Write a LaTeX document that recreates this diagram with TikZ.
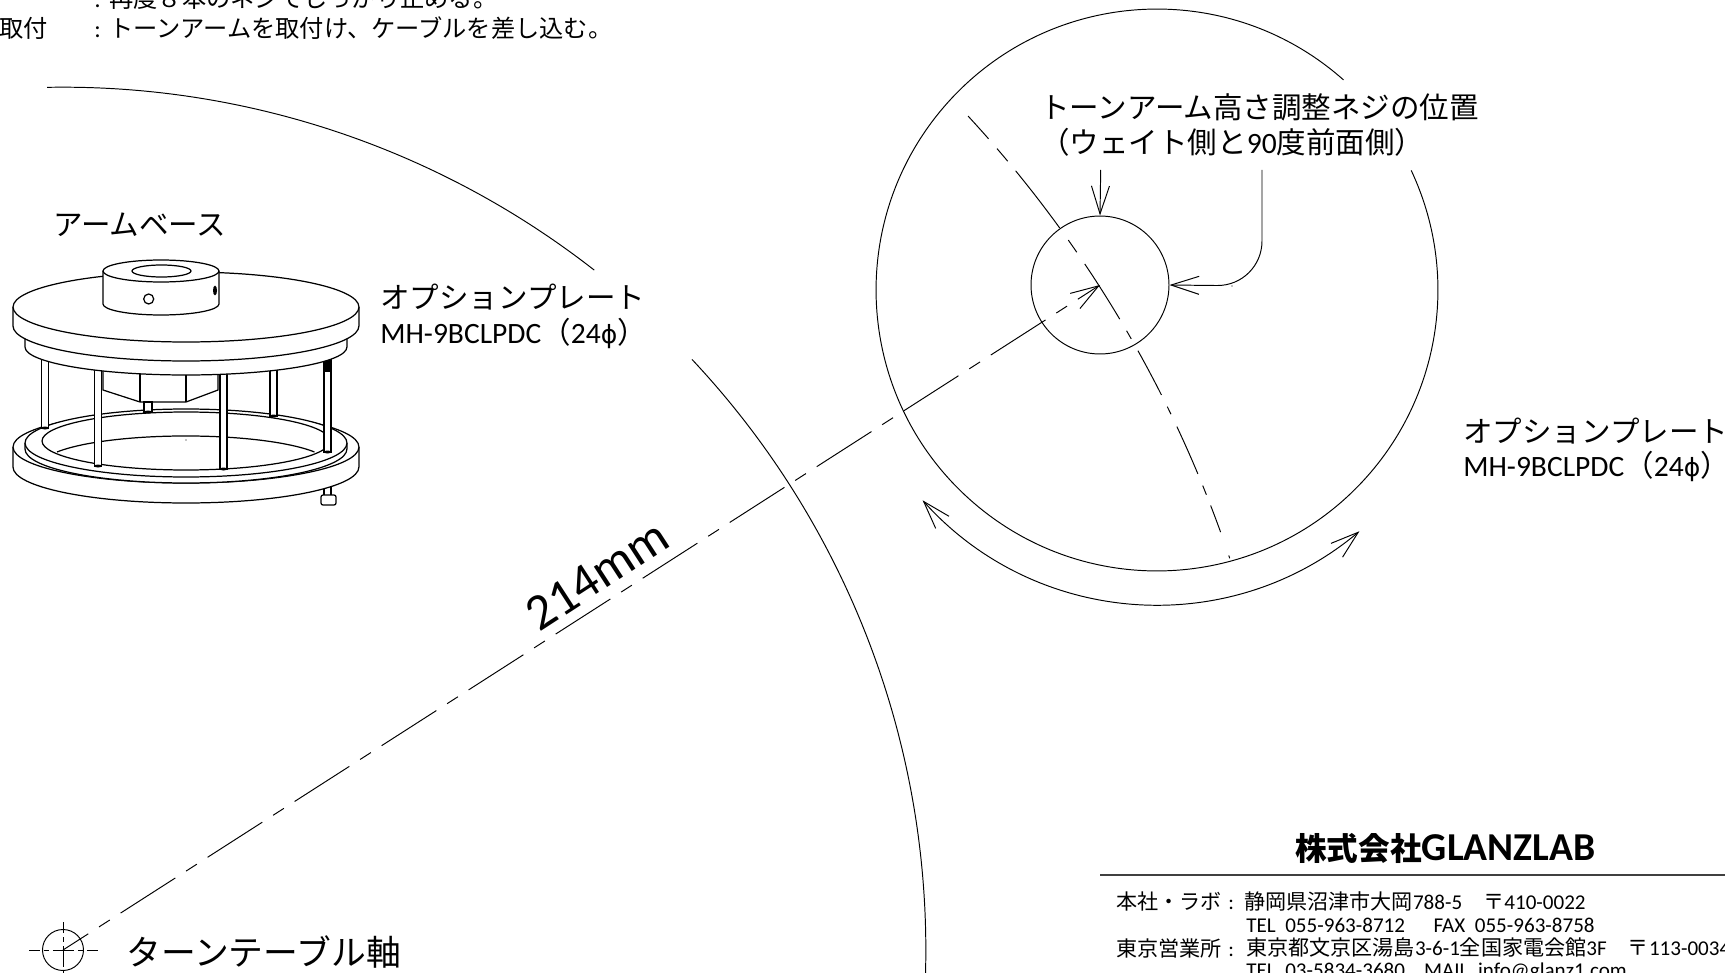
\documentclass[tikz,border=0pt]{standalone}
\usepackage{fontspec}
\setmainfont{Carlito}
\newfontfamily\jpfont{Noto Sans CJK JP}
\newfontfamily\phifont[Scale=0.85]{DejaVu Sans}
\newcommand{\jp}[1]{{\jpfont #1}}
\usetikzlibrary{arrows.meta}

\begin{document}
\begin{tikzpicture}[x=0.02cm,y=-0.02cm]
	\tikzstyle{thin line}=[line width=0.55pt]
	\tikzstyle{part}=[line width=0.7pt,fill=white]
	\tikzstyle{lead}=[line width=0.55pt,-{Straight Barb[length=0.56cm,width=0.36cm]}]
	\tikzstyle{centre line}=[line width=0.55pt,dash pattern=on 1.3cm off 0.256cm on 0.256cm off 0.256cm,dash phase=0.7cm]
	\tikzstyle{cross line}=[line width=0.55pt,dash pattern=on 0.22cm off 0.08cm on 0.1cm off 0.08cm on 0.42cm off 0.08cm on 0.1cm off 0.08cm on 0.22cm]
	\tikzstyle{caption}=[anchor=base west,inner sep=0pt,font=\fontsize{16.8}{20}\selectfont]
	\tikzstyle{note}=[anchor=base west,inner sep=0pt,font=\fontsize{13.8}{16}\selectfont]
	\tikzstyle{address}=[anchor=base west,inner sep=0pt,font=\fontsize{12}{14}\selectfont]
	\clip[use as bounding box] (0,0) rectangle (1725,973);
	\node[note] (mountcolon) at (94,8) {:};
	\node[note] (mounttext) at (109,8) {\jp{再度８本のネジでしっかり止める。}};
	\node[note] (fittitle) at (-1,38) {\jp{取付}};
	\node[note] (fitcolon) at (94,38) {:};
	\node[note] (fittext) at (109,38) {\jp{トーンアームを取付け、ケーブルを差し込む。}};
	\coordinate (tt) at (63,950);
	\coordinate (dial) at (1157,290);
	\node[circle,draw,line width=0.55pt,minimum size=0.82cm,inner sep=0pt] (axis) at (tt) {};
	\node[circle,draw,line width=0.55pt,minimum size=2.76cm,inner sep=0pt] (hole) at (1100,285) {};
	\draw[cross line] (29,950) -- (98,950);
	\draw[cross line] (63.5,922) -- (63.5,991);
	\draw[thin line] ([shift={(91.06:17.26cm)}]tt) arc[start angle=91.06,end angle=52,radius=17.26cm];
	\draw[thin line] ([shift={(43.2:17.26cm)}]tt) arc[start angle=43.2,end angle=-3,radius=17.26cm];
	\draw[thin line] ([shift={(48.4:5.62cm)}]dial) arc[start angle=48.4,end angle=385.2,radius=5.62cm];
	\draw[lead,{Straight Barb[length=0.56cm,width=0.36cm]}-{Straight Barb[length=0.56cm,width=0.36cm]}] ([shift={(221.9:6.3cm)}]dial) arc[start angle=221.9,end angle=310,radius=6.3cm];
	\draw[centre line,-{Straight Barb[length=0.56cm,width=0.36cm]}] (tt) -- (hole.center);
	\foreach \a/\b in {42.66/41.23,40.63/39.86,39.28/35.92,35.23/34.54,33.88/30.84,30.21/29.77,29.14/26.81,26.2/25.81,25.17/22.76,22.17/21.71,21.17/19.85,18.7/18.56}
		\draw[thin line] ([shift={(\a:24.62cm)}]tt) arc[start angle=\a,end angle=\b,radius=24.62cm];
	\coordinate (toplead) at (1100.7,170);
	\coordinate (sidelead) at (1262,170);
	\draw[lead] (toplead) -- (hole.north);
	\draw[lead,rounded corners=0.9cm] (sidelead) -- (1262,286) -- (hole.east);
	\fill (1232,286) circle (0.012cm);
	\node[caption] (topnote) at (1040,119) {\jp{トーンアーム高さ調整ネジの位置}};
	\node[caption] (subnote) at (1040,154) {\jp{（ウェイト側と}90\jp{度前面側）}};
	\node[caption] (basetitle) at (53,236) {\jp{アームベース}};
	\node[caption] (plateleft) at (380,309) {\jp{オプションプレート}};
	\node[caption] (modelleft) at (380,343) {MH-9BCLPDC\jp{（}24{\phifont ϕ}\jp{）}};
	\node[caption] (plateright) at (1463,442) {\jp{オプションプレート}};
	\node[caption] (modelright) at (1463,476) {MH-9BCLPDC\jp{（}24{\phifont ϕ}\jp{）}};
	\node[anchor=base west,inner sep=0pt,font=\fontsize{19.8}{22}\selectfont] (axistitle) at (126,965) {\jp{ターンテーブル軸}};
	\node[inner sep=0pt,rotate=33,font=\fontsize{29}{34}\selectfont] (radius) at (597,575) {214mm};
	\draw[part] (324,480) rectangle (331,496);
	\draw[part,rounded corners=0.04cm] (321,495) rectangle (336,505);
	\draw[part] (13,447) -- (13,467) arc[start angle=180,end angle=360,x radius=3.46cm,y radius=0.72cm] -- (359,447);
	\draw[part] (186,447) ellipse[x radius=3.46cm,y radius=0.72cm];
	\draw[part] (25,443) -- (25,449) arc[start angle=180,end angle=360,x radius=3.22cm,y radius=0.68cm] -- (347,443);
	\draw[part] (186,443) ellipse[x radius=3.22cm,y radius=0.68cm];
	\draw[part] (186,441) ellipse[x radius=2.88cm,y radius=0.58cm];
	\draw[line width=0.7pt] (57,452) arc[start angle=153.4,end angle=26.6,x radius=2.88cm,y radius=0.58cm];
	\fill (186,440) circle (0.012cm);
	\draw[part] (103,365) -- (103,390) -- (140,402) -- (186,402) -- (218,390) -- (218,365);
	\draw[line width=0.7pt] (140,365) -- (140,402);
	\draw[line width=0.7pt] (186,365) -- (186,402);
	\foreach \xa/\xb/\ya/\yb in {41.7/48.3/350/428,270/277/350/416,144/152/402/412,94.7/101.3/350/466,220/227/350/469,324/331/350/452}
		{
		\draw[part] (\xa,\ya) rectangle (\xb,\yb);
		\fill ({(\xa+\xb)/2},\yb) ellipse[x radius=0.07cm,y radius=0.03cm];
		}
	\fill (324,360) rectangle (331,372);
	\draw[part] (25,339) -- (25,347) arc[start angle=180,end angle=360,x radius=3.22cm,y radius=0.56cm] -- (347,339);
	\draw[part] (13,307) -- (13,326) arc[start angle=180,end angle=360,x radius=3.46cm,y radius=0.7cm] -- (359,307);
	\draw[part] (186,307) ellipse[x radius=3.46cm,y radius=0.7cm];
	\draw[part] (103,271) -- (103,304) arc[start angle=180,end angle=360,x radius=1.16cm,y radius=0.22cm] -- (219,271);
	\draw[part] (161,271) ellipse[x radius=1.16cm,y radius=0.22cm];
	\draw[line width=0.7pt] (161.5,271) ellipse[x radius=0.59cm,y radius=0.12cm];
	\draw[line width=0.7pt] (148.7,299) circle (0.1cm);
	\fill (215,290.5) ellipse[x radius=0.04cm,y radius=0.1cm];
	\node[anchor=base west,inner sep=0pt,font=\fontsize{18}{22}\bfseries\selectfont] (company) at (1295,860) {\jp{株式会社}{\fontsize{22.5}{22}\selectfont GLANZLAB}};
	\draw[line width=1.3pt,black!75] (1100,875) -- (1725,875);
	\node[address] (honsha) at (1116,909) {\jp{本社・ラボ}};
	\node[address] (honshacolon) at (1228,909) {:};
	\node[address] (honshaadr) at (1244,909) {\jp{静岡県沼津市大岡}788-5\jp{　〒}410-0022};
	\node[address] (honshatel) at (1246,932) {TEL\ \ 055-963-8712\ \ \ \ \ \ FAX\ \ 055-963-8758};
	\node[address] (tokyo) at (1116,956) {\jp{東京営業所}};
	\node[address] (tokyocolon) at (1228,956) {:};
	\node[address] (tokyoadr) at (1246,955) {\jp{東京都文京区湯島}3-6-1\jp{全国家電会館}3F\jp{　〒}113-0034};
	\node[address] (tokyotel) at (1246,977) {TEL\ \ 03-5834-3680\ \ \ \ MAIL\ \ info@glanz1.com};
\end{tikzpicture}
\end{document}
